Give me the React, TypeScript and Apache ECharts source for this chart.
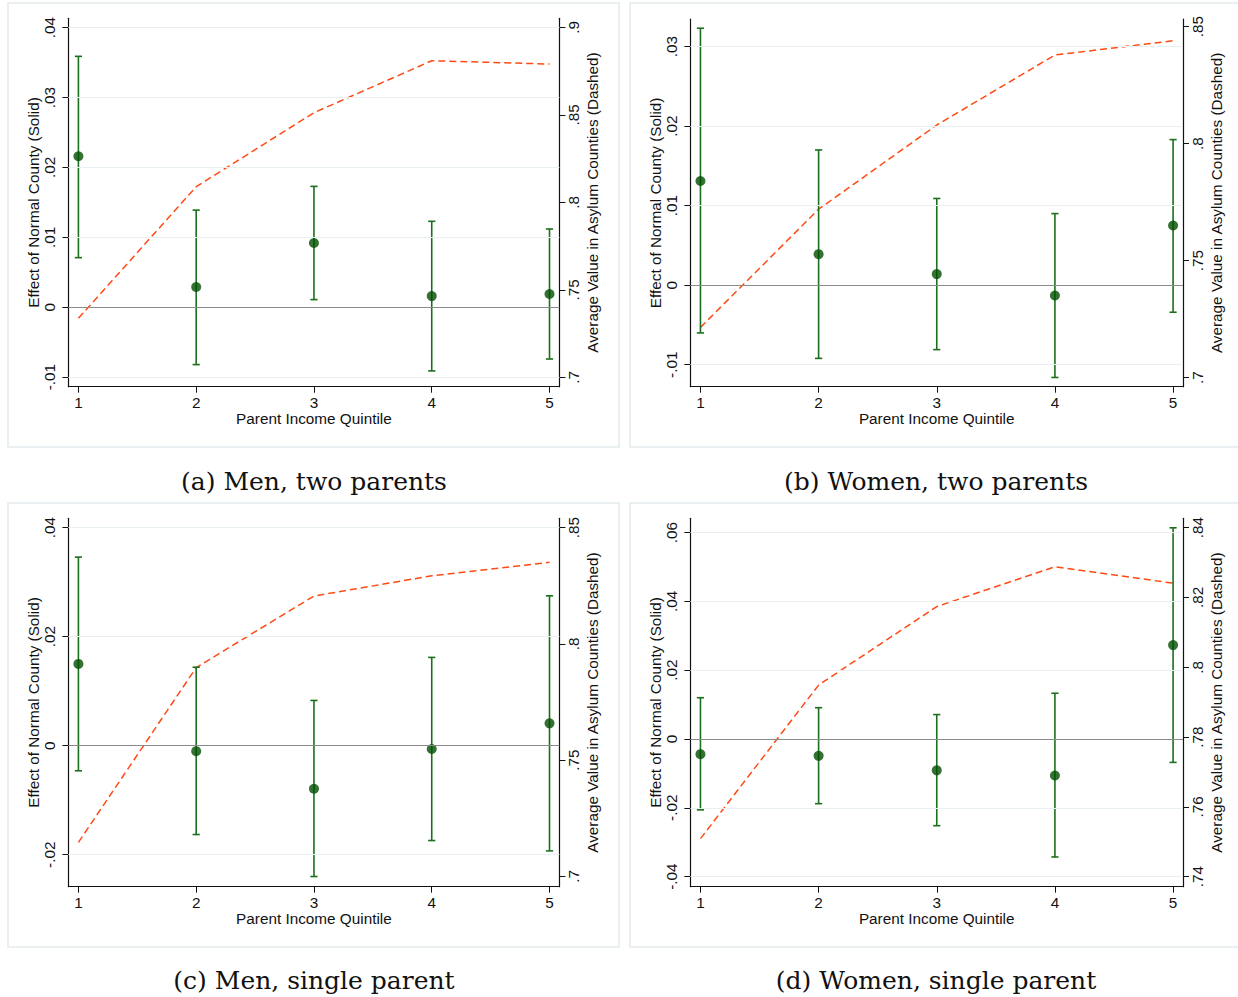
import React, { useEffect, useRef } from "react";
import * as echarts from "echarts";

// ---------- data ----------
const quintiles = [1, 2, 3, 4, 5];

// (a) Men, two parents
const coefA = [0.0216, 0.0029, 0.0092, 0.0016, 0.0019];
const loA = [0.0071, -0.0082, 0.0011, -0.0091, -0.0074];
const hiA = [0.0359, 0.0139, 0.0173, 0.0123, 0.0112];
const asylumA = [0.7337, 0.8089, 0.8512, 0.8809, 0.879];

// (b) Women, two parents
const coefB = [0.0131, 0.0039, 0.0014, -0.0013, 0.0075];
const loB = [-0.006, -0.0092, -0.0081, -0.0116, -0.0034];
const hiB = [0.0323, 0.017, 0.0109, 0.009, 0.0183];
const asylumB = [0.7215, 0.772, 0.808, 0.8379, 0.844];

// (c) Men, single parent
const coefC = [0.015, -0.001, -0.0079, -0.0006, 0.0041];
const loC = [-0.0046, -0.0163, -0.024, -0.0174, -0.0193];
const hiC = [0.0346, 0.0144, 0.0083, 0.0162, 0.0275];
const asylumC = [0.7146, 0.7898, 0.8206, 0.8293, 0.8351];

// (d) Women, single parent
const coefD = [-0.0044, -0.0049, -0.0091, -0.0106, 0.0273];
const loD = [-0.0206, -0.0188, -0.0252, -0.0343, -0.0068];
const hiD = [0.012, 0.0091, 0.0071, 0.0133, 0.0614];
const asylumD = [0.7509, 0.7949, 0.8174, 0.8288, 0.8241];

// tick values
const leftTicksA = [-0.01, 0, 0.01, 0.02, 0.03, 0.04];
const rightTicksA = [0.7, 0.75, 0.8, 0.85, 0.9];
const leftTicksB = [-0.01, 0, 0.01, 0.02, 0.03];
const rightTicksB = [0.7, 0.75, 0.8, 0.85];
const leftTicksC = [-0.02, 0, 0.02, 0.04];
const rightTicksC = [0.7, 0.75, 0.8, 0.85];
const leftTicksD = [-0.04, -0.02, 0, 0.02, 0.04, 0.06];
const rightTicksD = [0.74, 0.76, 0.78, 0.8, 0.82, 0.84];

const captions = [
  "(a) Men, two parents",
  "(b) Women, two parents",
  "(c) Men, single parent",
  "(d) Women, single parent",
];

const xTitle = "Parent Income Quintile";
const leftTitle = "Effect of Normal County (Solid)";
const rightTitle = "Average Value in Asylum Counties (Dashed)";

// ---------- layout ----------
const panels = [
  {
    coef: coefA, lo: loA, hi: hiA, asylum: asylumA,
    lt: leftTicksA, rt: rightTicksA,
    lmin: -0.01136, lmax: 0.04134, rmin: 0.69463, rmax: 0.90514,
    grid: { left: 68.4, top: 18.3, width: 491, height: 368.4 },
    frame: { x: 8, y: 3, w: 611, h: 444 },
    cap: { x: 314, y: 481 },
  },
  {
    coef: coefB, lo: loB, hi: hiB, asylum: asylumB,
    lt: leftTicksB, rt: rightTicksB,
    lmin: -0.01276, lmax: 0.03346, rmin: 0.69615, rmax: 0.8533,
    grid: { left: 690.4, top: 19, width: 492.6, height: 367.7 },
    frame: { x: 630, y: 3, w: 620, h: 444 },
    cap: { x: 936, y: 481 },
  },
  {
    coef: coefC, lo: loC, hi: hiC, asylum: asylumC,
    lt: leftTicksC, rt: rightTicksC,
    lmin: -0.02587, lmax: 0.04172, rmin: 0.69552, rmax: 0.85404,
    grid: { left: 68.4, top: 518.3, width: 491, height: 368.4 },
    frame: { x: 8, y: 503, w: 611, h: 444 },
    cap: { x: 314, y: 980 },
  },
  {
    coef: coefD, lo: loD, hi: hiD, asylum: asylumD,
    lt: leftTicksD, rt: rightTicksD,
    lmin: -0.04294, lmax: 0.06416, rmin: 0.73713, rmax: 0.84269,
    grid: { left: 690.4, top: 518.3, width: 492.6, height: 368.4 },
    frame: { x: 630, y: 503, w: 620, h: 444 },
    cap: { x: 936, y: 980 },
  },
];

const SANS = "'Liberation Sans', Arial, Helvetica, sans-serif";
const SERIF = "'DejaVu Serif', 'Liberation Serif', serif";
const BAR_COLOR = "#1c6f1c";
const DOT_COLOR = "#004f00";
const DASH_COLOR = "#ff4a14";
const GRID_COLOR = "#e9f0f1";

function stataFmt(v: number): string {
  const r = Math.round(v * 10000) / 10000;
  if (r === 0) return "0";
  let s = String(r);
  s = s.replace(/^0\./, ".").replace(/^-0\./, "-.");
  return s;
}

function buildOption() {
  const grids: any[] = [];
  const xAxes: any[] = [];
  const yAxes: any[] = [];
  const series: any[] = [];
  const graphics: any[] = [];

  panels.forEach((p, i) => {
    graphics.push({
      type: "rect",
      shape: { x: p.frame.x, y: p.frame.y, width: p.frame.w, height: p.frame.h },
      style: { fill: "none", stroke: "#e4ebed", lineWidth: 1.5 },
      silent: true,
      z: -1,
    });
    graphics.push({
      type: "text",
      x: p.cap.x,
      y: p.cap.y,
      style: {
        text: captions[i],
        font: `25px ${SERIF}`,
        fill: "#111",
        textAlign: "center",
        textVerticalAlign: "middle",
      },
    });

    grids.push({ ...p.grid, containLabel: false });

    xAxes.push({
      type: "value",
      gridIndex: i,
      min: 0.915,
      max: 5.084,
      name: xTitle,
      nameLocation: "middle",
      nameGap: 24,
      nameTextStyle: { fontFamily: SANS, fontSize: 15.3, color: "#111" },
      axisLine: { show: true, onZero: false, lineStyle: { color: "#111", width: 1.2 } },
      axisTick: { show: true, length: 6, customValues: quintiles, lineStyle: { color: "#111" } },
      axisLabel: {
        customValues: quintiles,
        margin: 8,
        fontFamily: SANS,
        fontSize: 15.3,
        color: "#111",
        formatter: (v: number) => String(v),
      },
      splitLine: { show: false },
    });

    yAxes.push({
      type: "value",
      gridIndex: i,
      position: "left",
      min: p.lmin,
      max: p.lmax,
      name: leftTitle,
      nameLocation: "middle",
      nameRotate: 90,
      nameGap: 27,
      nameTextStyle: { fontFamily: SANS, fontSize: 15.3, color: "#111" },
      axisLine: { show: true, onZero: false, lineStyle: { color: "#111", width: 1.2 } },
      axisTick: { show: true, length: 6, customValues: p.lt, lineStyle: { color: "#111" } },
      axisLabel: {
        customValues: p.lt,
        rotate: 90,
        margin: 11,
        fontFamily: SANS,
        fontSize: 15.3,
        color: "#111",
        formatter: (v: number) => stataFmt(v),
      },
      splitLine: { show: false },
    });

    yAxes.push({
      type: "value",
      gridIndex: i,
      position: "right",
      min: p.rmin,
      max: p.rmax,
      name: rightTitle,
      nameLocation: "middle",
      nameRotate: 90,
      nameGap: 26,
      nameTextStyle: { fontFamily: SANS, fontSize: 15.3, color: "#111" },
      axisLine: { show: true, onZero: false, lineStyle: { color: "#111", width: 1.2 } },
      axisTick: { show: true, length: 6, customValues: p.rt, lineStyle: { color: "#111" } },
      axisLabel: {
        customValues: p.rt,
        rotate: 90,
        margin: 7,
        fontFamily: SANS,
        fontSize: 15.3,
        color: "#111",
        formatter: (v: number) => stataFmt(v),
      },
      splitLine: { show: false },
    });

    const leftIdx = i * 2;
    const rightIdx = i * 2 + 1;

    // gridlines (non-zero left ticks) and zero line
    series.push({
      type: "line",
      xAxisIndex: i,
      yAxisIndex: leftIdx,
      data: [],
      silent: true,
      markLine: {
        silent: true,
        symbol: "none",
        label: { show: false },
        animation: false,
        data: [
          ...p.lt
            .filter((t) => t !== 0)
            .map((t) => ({ yAxis: t, lineStyle: { color: GRID_COLOR, width: 1.2, type: "solid" } })),
          { yAxis: 0, lineStyle: { color: "#8a8a8a", width: 1.2, type: "solid" } },
        ],
      },
      z: 1,
    });

    // error bars
    series.push({
      type: "custom",
      xAxisIndex: i,
      yAxisIndex: leftIdx,
      data: quintiles.map((q, k) => [q, p.lo[k], p.hi[k]]),
      encode: { x: 0, y: [1, 2] },
      renderItem: (params: any, api: any) => {
        const x = api.value(0);
        const a = api.coord([x, api.value(1)]);
        const b = api.coord([x, api.value(2)]);
        const cw = 3.6;
        const st = { stroke: BAR_COLOR, lineWidth: 1.6 };
        return {
          type: "group",
          children: [
            { type: "line", shape: { x1: a[0], y1: a[1], x2: b[0], y2: b[1] }, style: st },
            { type: "line", shape: { x1: a[0] - cw, y1: a[1], x2: a[0] + cw, y2: a[1] }, style: st },
            { type: "line", shape: { x1: b[0] - cw, y1: b[1], x2: b[0] + cw, y2: b[1] }, style: st },
          ],
        };
      },
      z: 3,
    });

    // point estimates
    series.push({
      type: "scatter",
      xAxisIndex: i,
      yAxisIndex: leftIdx,
      data: quintiles.map((q, k) => [q, p.coef[k]]),
      symbol: "circle",
      symbolSize: 10,
      itemStyle: { color: DOT_COLOR },
      z: 4,
    });

    // asylum average dashed line
    series.push({
      type: "line",
      xAxisIndex: i,
      yAxisIndex: rightIdx,
      data: quintiles.map((q, k) => [q, p.asylum[k]]),
      showSymbol: false,
      symbol: "none",
      lineStyle: { color: DASH_COLOR, width: 1.5, type: [7, 4] },
      z: 2,
    });
  });

  return {
    animation: false,
    backgroundColor: "#ffffff",
    grid: grids,
    xAxis: xAxes,
    yAxis: yAxes,
    series,
    graphic: graphics,
  };
}

export default function App() {
  const ref = useRef<HTMLDivElement>(null);
  useEffect(() => {
    if (!ref.current) return;
    const chart = echarts.init(ref.current, undefined, { renderer: "svg" });
    chart.setOption(buildOption() as any);
    return () => chart.dispose();
  }, []);
  return (
    <div
      ref={ref}
      style={{ position: "absolute", left: 0, top: 0, width: 1238, height: 997, background: "#fff" }}
    />
  );
}
